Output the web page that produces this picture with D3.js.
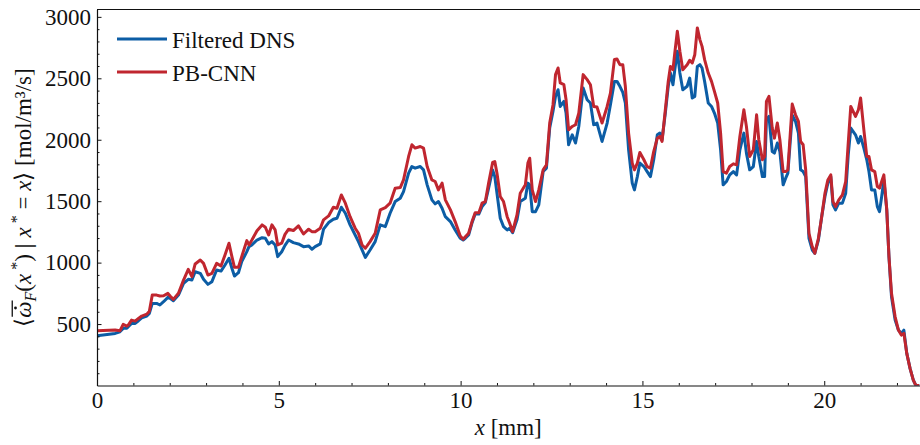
<!DOCTYPE html>
<html>
<head>
<meta charset="utf-8">
<script src="https://cdn.jsdelivr.net/npm/d3@7"></script>
<style>
  html, body { margin: 0; padding: 0; background: #fff; }
  svg { display: block; }
  text { font-family: "Liberation Serif", "Times New Roman", serif; }
</style>
</head>
<body>
<svg id="chart" width="920" height="445"></svg>
<script>
// ---- data ----
const xPositions = [0.00,0.50,0.63,0.72,0.82,0.86,0.95,1.05,1.14,1.23,1.37,1.44,1.52,1.64,1.73,1.83,1.95,2.01,2.10,2.24,2.38,2.51,2.61,2.70,2.84,2.93,3.05,3.16,3.29,3.41,3.52,3.63,3.71,3.78,3.89,3.98,4.12,4.18,4.26,4.40,4.54,4.63,4.72,4.81,4.90,4.97,5.08,5.17,5.27,5.40,5.54,5.68,5.82,5.91,6.00,6.14,6.23,6.37,6.50,6.60,6.72,6.83,6.96,7.10,7.19,7.29,7.38,7.51,7.65,7.79,7.93,8.06,8.20,8.34,8.43,8.57,8.66,8.75,8.89,8.98,9.08,9.21,9.30,9.39,9.49,9.58,9.72,9.85,9.99,10.07,10.13,10.22,10.31,10.40,10.50,10.59,10.68,10.77,10.88,10.94,11.00,11.09,11.18,11.28,11.35,11.43,11.55,11.64,11.78,11.85,11.90,11.97,12.06,12.15,12.27,12.36,12.45,12.54,12.61,12.68,12.74,12.84,12.90,12.97,13.07,13.16,13.25,13.37,13.48,13.57,13.66,13.75,13.89,14.03,14.12,14.23,14.30,14.38,14.46,14.53,14.62,14.72,14.78,14.86,14.93,15.04,15.13,15.22,15.31,15.41,15.48,15.54,15.63,15.71,15.77,15.84,15.89,15.96,16.03,16.11,16.23,16.30,16.37,16.44,16.51,16.58,16.64,16.71,16.81,16.90,16.98,17.07,17.15,17.22,17.31,17.40,17.50,17.59,17.68,17.79,17.86,17.95,18.05,18.14,18.20,18.30,18.36,18.41,18.48,18.57,18.63,18.71,18.78,18.87,18.94,19.00,19.12,19.21,19.29,19.35,19.42,19.49,19.58,19.67,19.74,19.84,19.93,20.02,20.10,20.18,20.24,20.31,20.40,20.50,20.59,20.66,20.73,20.86,20.94,21.00,21.09,21.17,21.23,21.30,21.39,21.46,21.52,21.58,21.64,21.72,21.78,21.85,21.95,22.04,22.12,22.19,22.27,22.36,22.45,22.52,22.62];

const filteredDNS = [404,424,437,465,465,478,505,505,527,551,565,587,668,668,655,682,717,709,690,736,831,864,858,926,913,864,823,845,940,931,981,1035,954,891,918,1008,1089,1130,1144,1184,1203,1198,1152,1171,1144,1049,1089,1140,1184,1163,1152,1130,1136,1109,1130,1152,1272,1326,1353,1361,1451,1402,1307,1225,1171,1103,1043,1103,1171,1307,1293,1402,1497,1524,1578,1728,1782,1769,1782,1755,1633,1511,1478,1497,1443,1374,1334,1266,1198,1184,1198,1225,1320,1395,1395,1456,1489,1606,1755,1700,1565,1361,1293,1266,1280,1244,1348,1497,1524,1647,1633,1415,1415,1470,1741,1769,2095,2230,2353,2407,2271,2312,2217,1959,2040,1973,2108,2421,2326,2299,2122,2136,1986,2136,2285,2475,2475,2435,2386,2299,1918,1647,1592,1700,1810,1782,1741,1700,1837,2040,2054,2000,2217,2435,2543,2448,2570,2720,2543,2407,2435,2502,2340,2353,2597,2611,2584,2475,2299,2271,2217,2136,1918,1633,1660,1714,1741,1714,1918,2054,1891,1755,1782,1986,1864,1700,1700,2163,2190,1904,1891,1973,1904,1633,1687,1728,2200,2149,2054,1755,1741,1700,1198,1103,1076,1184,1374,1538,1646,1700,1470,1429,1484,1484,1565,1877,2095,2040,1973,2027,1932,1837,1741,1592,1592,1456,1415,1538,1673,1429,1049,722,532,451,424,451,261,139,43,0,0];

const pbCNN = [445,451,445,497,483,492,532,524,546,565,581,605,736,736,728,730,750,728,701,750,858,945,886,989,1021,994,899,913,994,972,1062,1158,1049,962,962,1049,1179,1144,1184,1260,1307,1288,1225,1307,1266,1144,1158,1230,1272,1261,1299,1233,1272,1252,1252,1280,1348,1380,1451,1443,1551,1484,1374,1280,1239,1144,1117,1171,1239,1429,1448,1484,1606,1611,1673,1864,1959,1932,1945,1932,1782,1673,1660,1592,1647,1511,1429,1334,1217,1190,1211,1239,1330,1405,1405,1484,1497,1647,1815,1823,1728,1538,1497,1374,1320,1252,1388,1565,1633,1810,1850,1592,1497,1592,1755,1796,2136,2283,2530,2584,2462,2448,2326,2081,2108,2122,2217,2530,2489,2448,2271,2266,2136,2271,2380,2654,2657,2611,2611,2435,2054,1810,1755,1810,1897,1837,1782,1769,1904,2013,2027,1986,2244,2475,2597,2570,2706,2883,2720,2570,2611,2646,2625,2692,2910,2815,2760,2652,2543,2475,2394,2299,2054,1741,1728,1782,1804,1796,2027,2244,2108,1864,1918,2203,2000,1837,1864,2312,2353,2095,2013,2136,2000,1741,1741,1755,2290,2203,2149,1986,1959,1755,1239,1130,1076,1198,1374,1565,1673,1714,1497,1456,1511,1551,1660,1973,2271,2190,2244,2340,2081,1864,1864,1755,1741,1619,1606,1660,1714,1429,1049,750,559,451,410,424,261,139,43,0,0];

const xTickValues = [0, 5, 10, 15, 20];
const yTickValues = [500, 1000, 1500, 2000, 2500, 3000];
const seriesNames = ["Filtered DNS", "PB-CNN"];
const seriesColors = ["#0C5DA5", "#C0262F"];

// ---- layout ----
const svg = d3.select("#chart");
const mLeft = 97, mRight = 919.5, mTop = 9.5, mBottom = 385.5;

const x = d3.scaleLinear().domain([0, 22.62]).range([mLeft, mRight]);
const y = d3.scaleLinear().domain([0, 3060]).range([mBottom, mTop]);

svg.append("defs").append("clipPath").attr("id", "clip")
  .append("rect").attr("x", mLeft).attr("y", mTop - 2).attr("width", mRight - mLeft).attr("height", mBottom - mTop + 2);

// lines
const series = [filteredDNS, pbCNN];
const line = d3.line().x((d, i) => x(xPositions[i])).y(d => y(d));
const plot = svg.append("g").attr("clip-path", "url(#clip)");
series.forEach((s, k) => {
  plot.append("path").datum(s)
    .attr("d", line)
    .attr("fill", "none")
    .attr("stroke", seriesColors[k])
    .attr("stroke-width", 3)
    .attr("stroke-linejoin", "round")
    .attr("stroke-linecap", "butt");
});

// axes
const fontSize = 23;
const xMinor = d3.range(0, 23, 1).filter(v => v % 5 !== 0);
const yMinor = d3.range(100, 3060, 100).filter(v => v % 500 !== 0);

const gx = svg.append("g").attr("transform", `translate(0,${mBottom})`);
gx.call(d3.axisBottom(x).tickValues(xTickValues).tickFormat(d3.format("d"))
  .tickSizeInner(-4.5).tickSizeOuter(0).tickPadding(6));
const gxm = svg.append("g").attr("transform", `translate(0,${mBottom})`);
gxm.call(d3.axisBottom(x).tickValues(xMinor).tickFormat("").tickSizeInner(-2.5).tickSizeOuter(0));
gxm.select(".domain").remove();

const gy = svg.append("g").attr("transform", `translate(${mLeft},0)`);
gy.call(d3.axisLeft(y).tickValues(yTickValues).tickFormat(d3.format("d"))
  .tickSizeInner(-4.5).tickSizeOuter(0).tickPadding(6));
const gym = svg.append("g").attr("transform", `translate(${mLeft},0)`);
gym.call(d3.axisLeft(y).tickValues(yMinor).tickFormat("").tickSizeInner(-2.5).tickSizeOuter(0));
gym.select(".domain").remove();

[gx, gy, gxm, gym].forEach(g => {
  g.selectAll(".domain").attr("stroke", "#111").attr("stroke-width", 1.2);
  g.selectAll(".tick line").attr("stroke", "#111").attr("stroke-width", 1);
  g.selectAll("text").attr("font-family", "'Liberation Serif', serif")
    .attr("font-size", fontSize).attr("fill", "#111");
});

// top spine
svg.append("line").attr("x1", mLeft).attr("x2", 920).attr("y1", mTop).attr("y2", mTop)
  .attr("stroke", "#111").attr("stroke-width", 1.2);

// x label
const xl = svg.append("text").attr("x", (mLeft + mRight) / 2).attr("y", 435)
  .attr("text-anchor", "middle").attr("font-size", fontSize).attr("fill", "#111");
xl.append("tspan").attr("font-style", "italic").text("x");
xl.append("tspan").text(" [mm]");

// y label
const yg = svg.append("g").attr("transform", `translate(31,${(mTop + mBottom) / 2}) rotate(-90)`);
const yl = yg.append("text").attr("x", 0).attr("y", 0).attr("text-anchor", "middle")
  .attr("font-size", fontSize).attr("fill", "#111");
yl.append("tspan").text("⟨");
const omega = yl.append("tspan").attr("font-style", "italic").text("ω");
yl.append("tspan").attr("font-style", "italic").attr("font-size", 16).attr("dy", 5).text("F");
yl.append("tspan").attr("dy", -5).text("(");
yl.append("tspan").attr("font-style", "italic").text("x");
yl.append("tspan").attr("font-size", 16).attr("dy", -9).text(" *");
yl.append("tspan").attr("dy", 9).text(")");
yl.append("tspan").attr("font-weight", "bold").text(" | ");
yl.append("tspan").attr("font-style", "italic").text("x");
yl.append("tspan").attr("font-size", 16).attr("dy", -9).text(" *");
yl.append("tspan").attr("dy", 9).text(" = ");
yl.append("tspan").attr("font-style", "italic").text("x");
yl.append("tspan").text("⟩ [mol/m³/s]");

// dot + overline on omega
const ext = omega.node().getExtentOfChar(0);
yg.append("circle").attr("cx", ext.x + ext.width * 0.6).attr("cy", ext.y + ext.height * 0.18)
  .attr("r", 1.4).attr("fill", "#111");
yg.append("line").attr("x1", ext.x + 1).attr("x2", ext.x + ext.width + 1)
  .attr("y1", ext.y + ext.height * 0.05).attr("y2", ext.y + ext.height * 0.05)
  .attr("stroke", "#111").attr("stroke-width", 1.3);

// legend
const legY = [39, 72];
seriesNames.forEach((name, k) => {
  svg.append("line").attr("x1", 117).attr("x2", 167).attr("y1", legY[k]).attr("y2", legY[k])
    .attr("stroke", seriesColors[k]).attr("stroke-width", 3);
  svg.append("text").attr("x", 172).attr("y", legY[k] + 8.5)
    .attr("font-size", fontSize).attr("fill", "#111").text(name);
});
</script>
</body>
</html>
